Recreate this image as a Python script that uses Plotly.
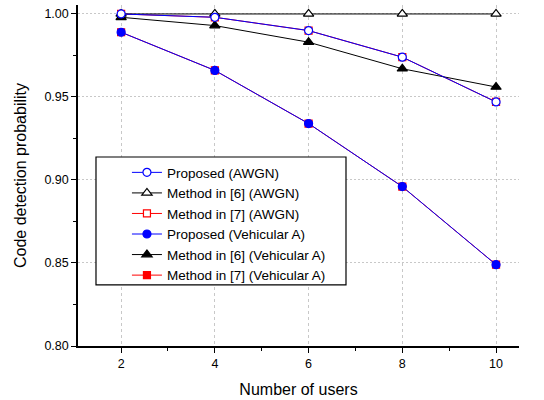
import plotly.graph_objects as go

users = [2, 4, 6, 8, 10]
proposed_awgn = [1.000, 0.998, 0.990, 0.974, 0.947]
method6_awgn = [1.000, 1.000, 1.000, 1.000, 1.000]
method7_awgn = [1.000, 0.998, 0.990, 0.974, 0.947]
proposed_veh = [0.989, 0.966, 0.934, 0.896, 0.849]
method6_veh = [0.998, 0.993, 0.983, 0.967, 0.956]
method7_veh = [0.989, 0.966, 0.934, 0.896, 0.849]

# name, values, colour, symbol, filled, legend rank
series = [
    ("Proposed (AWGN)", proposed_awgn, "blue", "circle", False, 0),
    ("Method in [6] (AWGN)", method6_awgn, "black", "triangle-up", False, 1),
    ("Method in [7] (AWGN)", method7_awgn, "red", "square", False, 2),
    ("Proposed (Vehicular A)", proposed_veh, "blue", "circle", True, 3),
    ("Method in [6] (Vehicular A)", method6_veh, "black", "triangle-up", True, 4),
    ("Method in [7] (Vehicular A)", method7_veh, "red", "square", True, 5),
]
draw_order = [2, 5, 1, 4, 0, 3]

fig = go.Figure()
for i in draw_order:
    name, ys, col, sym, filled, rank = series[i]
    size = 8 if sym == "circle" else (9 if sym == "triangle-up" else 7)
    fig.add_trace(go.Scatter(
        x=users, y=ys, name=name, mode="lines+markers",
        line=dict(color=col, width=1),
        marker=dict(symbol=sym, size=size, color=col if filled else "white",
                    line=dict(color=col, width=1.2)),
        legendrank=rank,
    ))

fig.add_shape(type="rect", xref="paper", yref="paper",
              x0=0.0408, x1=0.6077, y0=0.179, y1=0.5543,
              fillcolor="white", line=dict(color="black", width=1.2), layer="above")

fig.update_layout(
    width=544, height=400,
    margin=dict(l=78, r=25, t=5, b=54),
    paper_bgcolor="white", plot_bgcolor="white",
    font=dict(family="Liberation Sans, Arial, sans-serif", size=13, color="black"),
    legend=dict(x=0.111, y=0.554, xanchor="left", yanchor="top",
                borderwidth=0, bgcolor="rgba(0,0,0,0)",
                font=dict(size=13.5), tracegroupgap=0, itemwidth=30),
    showlegend=True,
)
fig.update_xaxes(
    range=[1.08, 10.49], tickvals=users, ticktext=[str(u) for u in users],
    title=dict(text="Number of users", font=dict(size=16), standoff=14),
    showline=True, linecolor="black", linewidth=1.5,
    ticks="outside", ticklen=5, tickcolor="black",
    minor=dict(tickvals=[1, 3, 5, 7, 9], ticks="outside", ticklen=3, tickcolor="black", showgrid=False),
    showgrid=True, gridcolor="#c8c8c8", griddash="3px,3px", gridwidth=1,
    zeroline=False, tickfont=dict(size=12.5),
)
fig.update_yaxes(
    range=[0.80, 1.0054], tickvals=[0.80, 0.85, 0.90, 0.95, 1.00], tickformat=".2f",
    title=dict(text="Code detection probability", font=dict(size=16), standoff=14),
    showline=True, linecolor="black", linewidth=1.5,
    ticks="outside", ticklen=5, tickcolor="black",
    minor=dict(tickvals=[0.825, 0.875, 0.925, 0.975], ticks="outside", ticklen=3, tickcolor="black", showgrid=False),
    showgrid=True, gridcolor="#c8c8c8", griddash="2px,2px", gridwidth=1,
    zeroline=False, tickfont=dict(size=12.5),
)

fig.write_html("out.html", config={"displayModeBar": False},
               post_script="document.body.style.margin='0';")
